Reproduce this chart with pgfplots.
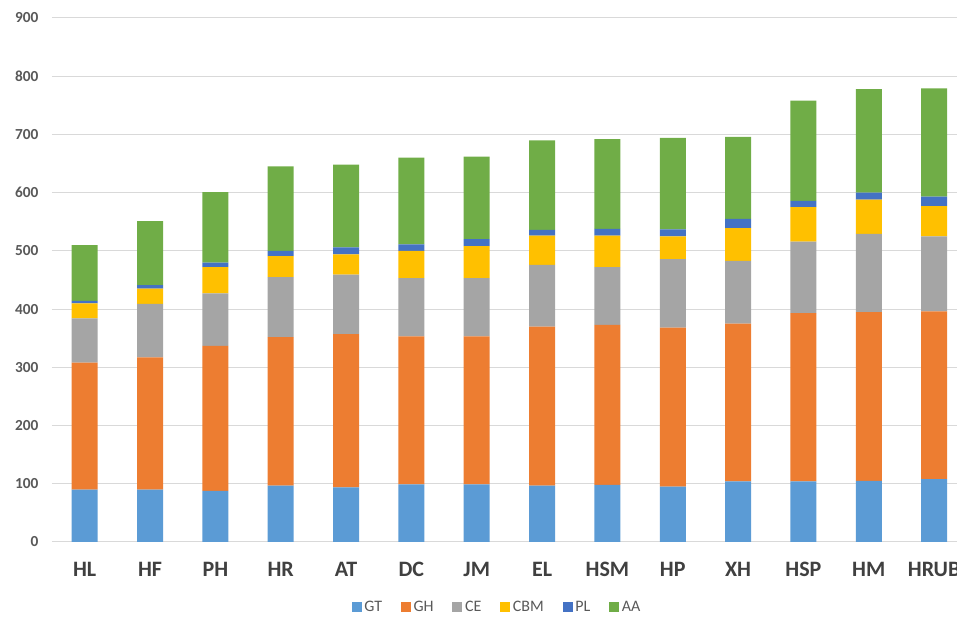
\documentclass[border=0pt]{standalone}
\usepackage{pgfplots}
\pgfplotsset{compat=1.18}
\usepackage{fontspec}
\setmainfont{Carlito}
\definecolor{cGT}{HTML}{5B9BD5}
\definecolor{cGH}{HTML}{ED7D31}
\definecolor{cCE}{HTML}{A5A5A5}
\definecolor{cCBM}{HTML}{FFC000}
\definecolor{cPL}{HTML}{4472C4}
\definecolor{cAA}{HTML}{70AD47}
\definecolor{gridc}{HTML}{D9D9D9}
\definecolor{tickc}{HTML}{595959}
\definecolor{catc}{HTML}{404040}
\begin{document}
\begin{tikzpicture}
\begin{axis}[name=ax,
  scale only axis, width=678.75pt, height=393pt,
  ybar stacked, bar width=19.5pt,
  xmin=-0.5, xmax=13.35, ymin=0, ymax=900,
  ytick={0,100,...,900},
  xtick={0,...,13},
  xticklabels={HL,HF,PH,HR,AT,DC,JM,EL,HSM,HP,XH,HSP,HM,HRUB},
  axis line style={draw=none},
  major tick length=0pt,
  ymajorgrids, grid style={gridc, line width=0.75pt},
  /pgf/number format/assume math mode=true,
  yticklabel style={font=\fontsize{11.5}{13}\selectfont\bfseries, text=tickc, anchor=east, inner sep=0pt, xshift=-10pt},
  xticklabel style={font=\fontsize{16.5}{18}\selectfont\bfseries, text=catc, anchor=north, inner sep=0pt, yshift=-15pt},
  legend columns=6,
  legend style={at={(0.492,0)}, anchor=center, yshift=-48.75pt, draw=none, fill=none,
    font=\fontsize{12}{14}\selectfont, text=tickc,
    /tikz/every odd column/.append style={column sep=0pt},
    /tikz/every even column/.append style={column sep=12pt}},
  legend image code/.code={\fill[#1,draw=none] (0pt,-3.8pt) rectangle (7.6pt,3.8pt);},
]
\addplot[fill=cGT, draw=none] coordinates {(0,90)(1,90)(2,88)(3,97)(4,94)(5,99)(6,99)(7,97)(8,98)(9,95)(10,104)(11,104)(12,105)(13,108)};
\addplot[fill=cGH, draw=none] coordinates {(0,218)(1,227)(2,249)(3,255)(4,263)(5,254)(6,254)(7,273)(8,275)(9,273)(10,271)(11,289)(12,290)(13,288)};
\addplot[fill=cCE, draw=none] coordinates {(0,76)(1,92)(2,90)(3,103)(4,102)(5,100)(6,100)(7,106)(8,99)(9,118)(10,108)(11,123)(12,134)(13,129)};
\addplot[fill=cCBM, draw=none] coordinates {(0,26)(1,26)(2,45)(3,36)(4,35)(5,47)(6,55)(7,50)(8,54)(9,39)(10,56)(11,59)(12,59)(13,52)};
\addplot[fill=cPL, draw=none] coordinates {(0,4)(1,6)(2,8)(3,9)(4,12)(5,11)(6,12)(7,10)(8,12)(9,12)(10,16)(11,11)(12,12)(13,16)};
\addplot[fill=cAA, draw=none] coordinates {(0,96)(1,110)(2,121)(3,145)(4,142)(5,149)(6,142)(7,154)(8,154)(9,157)(10,141)(11,172)(12,178)(13,186)};
\legend{GT,GH,CE,CBM,PL,AA}
\end{axis}
\pgfresetboundingbox
\path[use as bounding box] ([xshift=-39pt,yshift=-57pt]ax.south west) rectangle ([yshift=13.5pt]ax.north east);
\end{tikzpicture}
\end{document}
